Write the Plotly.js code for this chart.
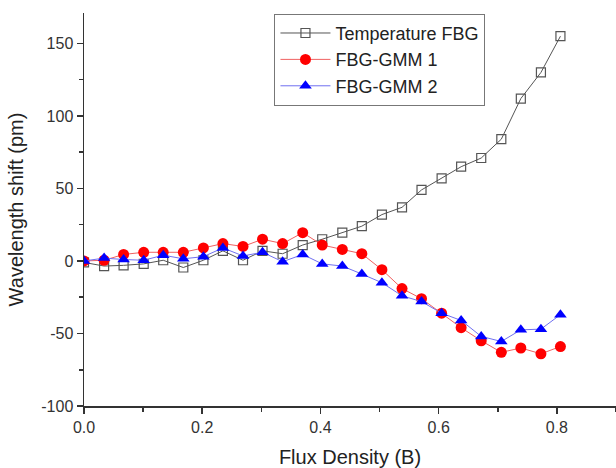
<!DOCTYPE html>
<html>
<head>
<meta charset="utf-8">
<script src="https://cdn.plot.ly/plotly-3.0.1.min.js"></script>
<style>
html,body{margin:0;padding:0;background:#fff;}
#chart{width:616px;height:468px;}
</style>
</head>
<body>
<div id="chart"></div>
<script>
const fluxDensity = [0, 0.034, 0.067, 0.101, 0.134, 0.168, 0.202, 0.235, 0.269, 0.302, 0.336, 0.370, 0.403, 0.437, 0.470, 0.504, 0.538, 0.571, 0.605, 0.638, 0.672, 0.706, 0.739, 0.773, 0.806];
const temperatureFBG = [-1, -3.5, -3, -2, 0.5, -4.5, 0.5, 7, 0.5, 7, 5, 11, 15, 19.5, 24, 32, 37, 49, 57, 65, 71, 84, 112, 130, 155];
const fbgGmm1 = [0, 0.5, 4.5, 6, 6, 6, 9, 12, 10, 15, 12, 19.5, 11, 8, 5, -6, -19, -26, -36, -46, -55, -63, -60, -64, -59];
const fbgGmm2 = [0, 2, 1, 0.5, 4, 1.5, 3, 9, 3.5, 6, -0.5, 4.5, -2, -3.5, -9, -15, -24, -28, -36, -41, -52, -55.5, -47.5, -47, -37];
const seriesNames = ["Temperature FBG", "FBG-GMM 1", "FBG-GMM 2"];
const xTickVals = [0, 0.2, 0.4, 0.6, 0.8];
const xTickText = ["0.0", "0.2", "0.4", "0.6", "0.8"];
const yTickVals = [-100, -50, 0, 50, 100, 150];
const yTickText = ["-100", "-50", "0", "50", "100", "150"];

const font = "Liberation Sans, Arial, sans-serif";
const traces = [
  {x: fluxDensity, y: temperatureFBG, name: seriesNames[0], mode: "lines+markers",
   line: {color: "#555555", width: 1},
   marker: {symbol: "square-open", size: 9, color: "#555555", line: {width: 1.2, color: "#555555"}}},
  {x: fluxDensity, y: fbgGmm1, name: seriesNames[1], mode: "lines+markers",
   line: {color: "#f06060", width: 1},
   marker: {symbol: "circle", size: 11, color: "#ff0000"}},
  {x: fluxDensity, y: fbgGmm2, name: seriesNames[2], mode: "lines+markers",
   line: {color: "#7070f0", width: 1},
   marker: {symbol: "triangle-up", size: 11, color: "#0000ff"}}
];
const layout = {
  width: 616, height: 468,
  margin: {l: 84, r: 0, t: 13, b: 62},
  paper_bgcolor: "#fff", plot_bgcolor: "#fff",
  font: {family: font, color: "#333"},
  showlegend: true,
  legend: {x: 0.358, y: 0.998, xanchor: "left", yanchor: "top",
    bordercolor: "#777", borderwidth: 1, bgcolor: "#fff", itemwidth: 50,
    font: {size: 18, family: font, color: "#222"}, tracegroupgap: 0},
  xaxis: {range: [0, 0.9], tickvals: xTickVals, ticktext: xTickText,
    showgrid: false, zeroline: false, showline: true, linecolor: "#333", linewidth: 1.5,
    ticks: "outside", ticklen: 6, tickwidth: 1.5, tickcolor: "#333",
    tickfont: {size: 16, family: font, color: "#333"},
    minor: {dtick: 0.1, ticks: "outside", ticklen: 4, tickwidth: 1.5, tickcolor: "#333", showgrid: false},
    title: {text: "Flux Density (B)", font: {size: 20, family: font, color: "#222"}, standoff: 15}},
  yaxis: {range: [-100, 171], tickvals: yTickVals, ticktext: yTickText,
    showgrid: false, zeroline: false, showline: true, linecolor: "#333", linewidth: 1.5,
    ticks: "outside", ticklen: 6, tickwidth: 1.5, tickcolor: "#333",
    tickfont: {size: 16, family: font, color: "#333"},
    minor: {dtick: 25, ticks: "outside", ticklen: 4, tickwidth: 1.5, tickcolor: "#333", showgrid: false},
    title: {text: "Wavelength shift (pm)", font: {size: 20, family: font, color: "#222"}, standoff: 12}}
};
Plotly.newPlot("chart", traces, layout, {displayModeBar: false, staticPlot: true});
</script>
</body>
</html>
